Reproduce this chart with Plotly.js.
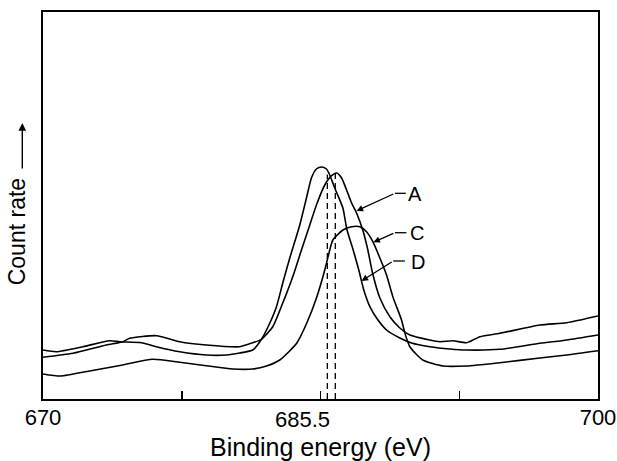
<!DOCTYPE html>
<html>
<head>
<meta charset="utf-8">
<script src="https://cdn.plot.ly/plotly-3.0.1.min.js"></script>
<style>
  html, body { margin: 0; padding: 0; background: #ffffff; }
  #chart { width: 617px; height: 461px; }
</style>
</head>
<body>
<div id="chart"></div>
<script>
// Binding energy (eV) and count rate (arbitrary units)
const energyA = [670.00, 671.62, 673.42, 674.32, 674.68, 676.13, 677.39, 678.83, 680.63, 681.34, 681.81, 682.42, 682.96, 683.50, 683.97, 684.42, 684.78, 685.23, 685.60, 685.87, 686.14, 686.41, 686.68, 686.95, 687.30, 687.56, 687.80, 688.21, 688.75, 689.29, 689.83, 690.91, 691.45, 692.16, 692.90, 693.62, 694.70, 696.86, 698.31, 700.00];
const countA  = [10.78, 11.81, 13.95, 14.81, 15.68, 16.36, 14.81, 13.95, 13.51, 14.55, 15.43, 18.68, 24.81, 31.60, 38.50, 44.96, 50.13, 55.30, 57.70, 58.40, 57.11, 54.01, 50.65, 48.06, 43.41, 38.50, 32.82, 26.10, 21.27, 18.35, 16.54, 15.25, 14.81, 15.06, 14.55, 16.10, 16.98, 19.12, 19.72, 21.45];

const energyC = [670.00, 670.95, 672.52, 674.31, 675.93, 677.39, 678.83, 680.26, 681.34, 682.08, 682.80, 683.29, 683.72, 684.26, 684.80, 685.23, 685.50, 685.67, 686.21, 686.68, 687.13, 687.49, 687.83, 688.21, 688.57, 688.91, 689.38, 689.56, 689.83, 690.53, 691.62, 692.90, 694.70, 696.86, 698.31, 700.00];
const countC  = [6.46, 5.94, 7.24, 8.79, 10.26, 9.48, 8.60, 7.75, 7.75, 8.53, 10.08, 12.22, 14.47, 19.64, 26.36, 33.33, 38.50, 41.09, 43.67, 44.52, 44.52, 43.23, 40.65, 36.43, 32.04, 26.43, 20.41, 17.05, 13.51, 10.08, 8.53, 8.53, 9.38, 10.59, 11.37, 12.48];

const energyD = [670.00, 670.72, 672.16, 673.60, 674.14, 675.32, 676.13, 677.39, 678.83, 679.92, 680.63, 681.34, 681.81, 682.26, 682.62, 682.96, 683.34, 683.88, 684.24, 684.51, 684.78, 685.05, 685.32, 685.50, 685.77, 686.21, 686.42, 686.75, 687.07, 687.34, 687.67, 688.03, 688.57, 689.29, 689.92, 690.91, 691.99, 692.90, 694.70, 696.86, 698.31, 700.00];
const countD  = [12.66, 12.22, 13.51, 15.06, 14.81, 14.55, 13.51, 12.22, 11.37, 11.37, 11.89, 12.66, 15.43, 19.64, 23.85, 29.97, 36.43, 44.96, 51.94, 57.11, 59.43, 59.95, 59.43, 57.88, 54.52, 49.35, 43.93, 38.76, 33.33, 28.17, 23.85, 20.93, 17.83, 15.76, 14.47, 13.51, 12.92, 12.66, 12.84, 14.39, 15.25, 16.54];

// Peak-position markers (dashed verticals)
const dashEnergies = [685.37, 685.80];
const dashTops = [58.0, 58.3];

// Axis ticks
const tickVals = [670, 677.5, 685, 692.5, 700];
const tickText = ['670', '', '', '', '700'];
const peakLabel = '685.5';
const peakLabelEnergy = 684.0;

const seriesNames = ['A', 'C', 'D'];
const yTitle = 'Count rate';
const xTitle = 'Binding energy (eV)';

const lineStyle = { color: '#000000', width: 1.6, shape: 'spline', smoothing: 0.6 };

const traces = [
  { x: energyA, y: countA, name: seriesNames[0], mode: 'lines', line: lineStyle, hoverinfo: 'x+y+name' },
  { x: energyC, y: countC, name: seriesNames[1], mode: 'lines', line: lineStyle, hoverinfo: 'x+y+name' },
  { x: energyD, y: countD, name: seriesNames[2], mode: 'lines', line: lineStyle, hoverinfo: 'x+y+name' }
];
dashEnergies.forEach(function (e, i) {
  traces.push({
    x: [e, e], y: [0, dashTops[i]], mode: 'lines', hoverinfo: 'skip',
    line: { color: '#000000', width: 1.3, dash: '6px,4px' }
  });
});

const font = 'Liberation Sans, Arial, Helvetica, sans-serif';

function leader(name, tipX, tipY, bendX, bendY, endX, textX, textY) {
  return {
    arrow: { x: tipX, y: tipY, ax: bendX, ay: bendY, xref: 'x', yref: 'y', axref: 'x', ayref: 'y',
             text: '', showarrow: true, arrowhead: 2, arrowsize: 1, arrowwidth: 1.3, arrowcolor: '#000000' },
    seg: { type: 'line', xref: 'x', yref: 'y', x0: bendX, y0: bendY, x1: endX, y1: bendY,
           line: { color: '#000000', width: 1.3 } },
    label: { x: textX, y: textY, xref: 'x', yref: 'y', text: name, showarrow: false,
             xanchor: 'center', yanchor: 'middle', font: { family: font, size: 20, color: '#000000' } }
  };
}

const leaders = [
  leader(seriesNames[0], 686.95, 48.6, 689.02, 53.15, 689.61, 690.13, 53.05),
  leader(seriesNames[1], 687.86, 40.5, 689.02, 42.97, 689.64, 690.24, 42.89),
  leader(seriesNames[2], 687.22, 30.5, 688.93, 35.66, 689.56, 690.26, 35.48)
];

const annotations = [];
const shapes = [];
leaders.forEach(function (l) { annotations.push(l.arrow, l.label); shapes.push(l.seg); });

annotations.push({
  x: peakLabelEnergy, y: 0, xref: 'x', yref: 'paper', text: peakLabel, showarrow: false,
  xanchor: 'center', yanchor: 'top', yshift: -6, font: { family: font, size: 22, color: '#000000' }
});
// Y-axis title: rotated text plus an upward arrow
annotations.push({
  x: -0.0467, y: 0.431, xref: 'paper', yref: 'paper', text: yTitle, showarrow: false,
  textangle: -90, xanchor: 'center', yanchor: 'middle',
  font: { family: font, size: 23, color: '#000000' }
});
annotations.push({
  x: -0.0373, y: 0.713, xref: 'paper', yref: 'paper', text: '', showarrow: true,
  ax: 0, ay: 47, arrowhead: 2, arrowsize: 1.1, arrowwidth: 1.4, arrowcolor: '#000000'
});

const layout = {
  width: 617, height: 461,
  margin: { l: 43, r: 19, t: 12, b: 62, pad: 0 },
  paper_bgcolor: '#ffffff', plot_bgcolor: '#ffffff',
  showlegend: false,
  font: { family: font, color: '#000000' },
  xaxis: {
    range: [670, 700], tickmode: 'array', tickvals: tickVals, ticktext: tickText,
    ticks: 'inside', ticklen: 8, tickwidth: 1.5, tickcolor: '#000000',
    tickfont: { family: font, size: 22, color: '#000000' }, ticklabelstandoff: -2,
    showline: true, linecolor: '#000000', linewidth: 2, mirror: true,
    showgrid: false, zeroline: false,
    title: { text: xTitle, font: { family: font, size: 25, color: '#000000' }, standoff: 14 }
  },
  yaxis: {
    range: [0, 100], showticklabels: false, ticks: '',
    showline: true, linecolor: '#000000', linewidth: 2, mirror: true,
    showgrid: false, zeroline: false
  },
  annotations: annotations,
  shapes: shapes
};

Plotly.newPlot('chart', traces, layout, { staticPlot: true, displayModeBar: false });
</script>
</body>
</html>
